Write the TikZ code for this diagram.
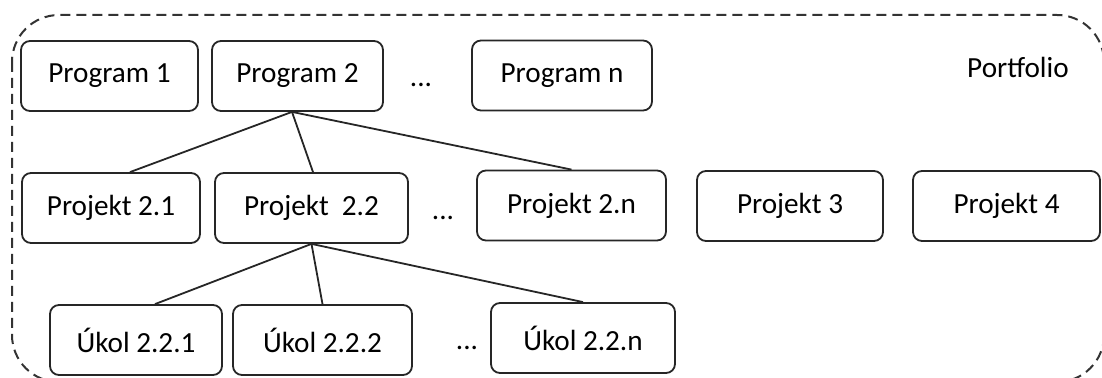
\documentclass[tikz,border=0pt]{standalone}
\usepackage{fontspec}
\setmainfont{Carlito}
\usepackage{tikz}

\begin{document}
\begin{tikzpicture}[x=0.5pt, y=-0.5pt,
      every node/.style={font=\fontsize{14.6}{16}\selectfont},
      box/.style={draw=black!85, line width=0.9pt, rounded corners=4.5pt,
        minimum height=35pt, inner sep=0pt},
      link/.style={draw=black!85, line width=0.9pt},
      frame/.style={draw=black!80, line width=1pt, dash pattern=on 5pt off 3pt,
        rounded corners=23.5pt}]
      \useasboundingbox (0,0) rectangle (1102,378);
      \clip (0,0) rectangle (1102,378);
      \draw[frame] (12,15) rectangle (1104,382);
      \node at (1018,67) (portfolio) {Portfolio};
      % programy
      \node[box, minimum width=88.5pt] at (109.5,76) (prog1) {Program 1};
      \node[box, minimum width=85.5pt] at (297.5,76) (prog2) {Program 2};
      \node at (421,85) (dots1) {...};
      \node[box, minimum width=90pt] at (562,75.5) (progn) {Program n};
      % projekty
      \node[box, minimum width=89pt] at (111,208) (proj21) {Projekt 2.1};
      \node[box, minimum width=96.5pt] at (311.5,208) (proj22) {Projekt\hspace{0.45em}2.2};
      \node at (443,218) (dots2) {...};
      \node[box, minimum width=94.5pt] at (571.5,205.5) (proj2n) {Projekt 2.n};
      \node[box, minimum width=93pt] at (790,206) (proj3) {Projekt 3};
      \node[box, minimum width=93.5pt] at (1006.5,206) (proj4) {Projekt 4};
      % ukoly
      \node[box, minimum width=86pt] at (136,340) (ukol1) {Úkol 2.2.1};
      \node[box, minimum width=89.5pt] at (322.5,340) (ukol2) {Úkol 2.2.2};
      \node at (467,348) (dots3) {...};
      \node[box, minimum width=92pt] at (583,338) (ukoln) {Úkol 2.2.n};
      % spojnice
      \coordinate (top2) at ([xshift=-2.75pt]prog2.south);
      \draw[link] (top2) -- ([xshift=9.5pt]proj21.north);
      \draw[link] (top2) -- ([xshift=0.75pt]proj22.north);
      \draw[link] (top2) -- (proj2n.north);
      \draw[link] (proj22.south) -- ([xshift=9.5pt]ukol1.north);
      \draw[link] (proj22.south) -- (ukol2.north);
      \draw[link] (proj22.south) -- (ukoln.north);
    \end{tikzpicture}
\end{document}
